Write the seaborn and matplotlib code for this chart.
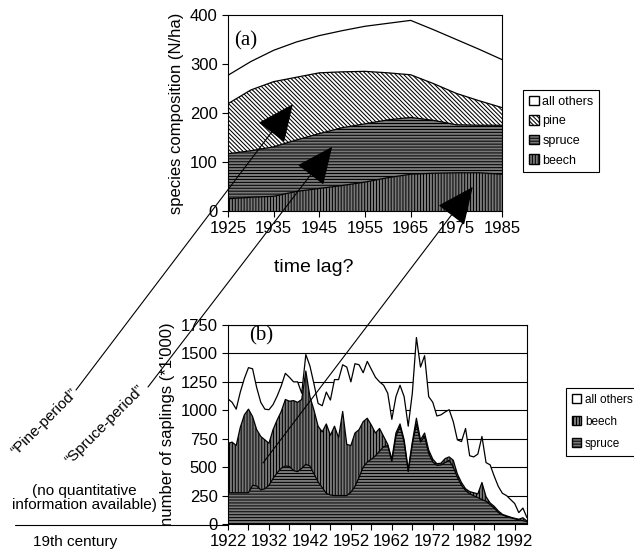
import matplotlib
matplotlib.use("Agg")
import matplotlib.pyplot as plt
import pandas as pd
import seaborn as sns
from matplotlib.lines import Line2D
from matplotlib.patches import ConnectionPatch, Patch

# (a) species composition (N/ha), upper boundary of each stacked layer
years_a = [1925, 1930, 1935, 1940, 1945, 1950, 1955, 1960, 1965, 1970, 1975, 1980, 1985]
beech_top_a = [25, 28, 30, 40, 46, 52, 59, 68, 75, 77, 78, 78, 75]
spruce_top_a = [117, 123, 131, 145, 158, 170, 178, 186, 191, 185, 176, 175, 175]
pine_top_a = [219, 247, 264, 273, 282, 284, 285, 282, 278, 260, 240, 225, 211]
total_a = [277, 305, 328, 345, 358, 368, 377, 383, 389, 370, 350, 330, 309]

# (b) number of saplings (*1000), upper boundary of each stacked layer
years_b = list(range(1922, 1996))
spruce_top_b = [275, 275, 275, 275, 275, 275, 340, 335, 300, 310,
                340, 400, 450, 490, 510, 505, 470, 460, 490, 525,
                510, 440, 370, 320, 270, 255, 250, 250, 250, 250,
                280, 330, 410, 500, 545, 570, 600, 640, 680, 690,
                550, 770, 860, 720, 460, 700, 880, 720, 770, 620,
                545, 515, 520, 540, 560, 500, 410, 340, 295, 265,
                248, 232, 215, 200, 170, 140, 100, 80, 66, 55,
                46, 36, 30, 20]
beech_top_b = [710, 720, 690, 850, 960, 1010, 945, 830, 770, 740,
               710, 830, 915, 990, 1095, 1080, 1085, 1070, 1095, 1345,
               1120, 1000, 860, 810, 880, 780, 860, 760, 990, 700,
               690, 800, 830, 900, 930, 870, 800, 840, 770, 700,
               570, 800, 880, 740, 480, 720, 930, 740, 800, 650,
               570, 530, 535, 575, 590, 560, 440, 365, 310, 285,
               275, 265, 365, 240, 185, 155, 115, 85, 72, 60,
               50, 42, 55, 25]
total_b = [1100, 1070, 1010, 1160, 1280, 1375, 1365, 1200, 1070, 1010,
           1005, 1050, 1125, 1215, 1325, 1290, 1250, 1250, 1150, 1490,
           1390, 1230, 1060, 1040, 1160, 1090, 1270, 1270, 1400, 1380,
           1250, 1410, 1400, 1330, 1430, 1360, 1290, 1250, 1220, 1150,
           920, 1120, 1220, 1120, 860, 1150, 1640, 1380, 1480, 1120,
           1070, 950, 960, 985, 1005, 900, 740, 725, 840, 600,
           590, 615, 770, 540, 520, 420, 330, 270, 250, 215,
           180, 100, 140, 55]

W, H = 634, 550


def px(x, y):
    return x / W, 1 - y / H


sns.set_style('ticks', {'axes.edgecolor': 'black', 'text.color': 'black',
                        'axes.labelcolor': 'black', 'xtick.color': 'black',
                        'ytick.color': 'black'})
plt.rcParams['font.family'] = ['Liberation Sans', 'DejaVu Sans']
plt.rcParams['hatch.linewidth'] = 0.75
plt.rcParams['axes.linewidth'] = 0.8

HATCH = {'beech': '|' * 11, 'spruce': '-' * 11, 'pine': '\\' * 8, 'all others': ''}

fig = plt.figure(figsize=(W / 100, H / 100), dpi=100)
ax_a = fig.add_axes([228 / W, 1 - 211 / H, 274 / W, 196 / H])
ax_b = fig.add_axes([228 / W, 1 - 524 / H, 299 / W, 199 / H])

# panel (a)
df_a = pd.DataFrame({'year': years_a, 'beech': beech_top_a, 'spruce': spruce_top_a,
                     'pine': pine_top_a, 'all others': total_a})
lower = [0] * len(years_a)
for col in ['beech', 'spruce', 'pine', 'all others']:
    ax_a.fill_between(df_a['year'], lower, df_a[col], facecolor='white',
                      edgecolor='black', hatch=HATCH[col], linewidth=0)
    sns.lineplot(data=df_a, x='year', y=col, ax=ax_a, color='black', lw=0.9, legend=False)
    lower = df_a[col]

ax_a.set_xlim(1925, 1985)
ax_a.set_ylim(0, 400)
ax_a.set_xticks(range(1925, 1986, 10))
ax_a.set_yticks(range(0, 401, 100))
ax_a.set_xlabel('')
ax_a.set_ylabel('species composition (N/ha)', fontsize=12)
ax_a.tick_params(labelsize=12, length=4, width=0.8)
ax_a.text(0.066, 0.87, '(a)', transform=ax_a.transAxes, ha='center', va='center',
          fontsize=15, family=['Liberation Serif', 'DejaVu Serif'])
for s in ax_a.spines.values():
    s.set_visible(True)

# panel (b)
df_b = pd.DataFrame({'year': years_b, 'spruce': spruce_top_b, 'beech': beech_top_b,
                     'all others': total_b})
ax_b.set_axisbelow(True)
ax_b.grid(axis='y', color='black', lw=0.8, zorder=0)
lower = [0] * len(years_b)
for col in ['spruce', 'beech', 'all others']:
    ax_b.fill_between(df_b['year'], lower, df_b[col], facecolor='white',
                      edgecolor='black', hatch=HATCH[col], linewidth=0, zorder=2)
    sns.lineplot(data=df_b, x='year', y=col, ax=ax_b, color='black', lw=0.9,
                 legend=False, zorder=3)
    lower = df_b[col]

ax_b.set_xlim(1922, 1995)
ax_b.set_ylim(0, 1750)
ax_b.set_xticks(range(1922, 1993, 10))
ax_b.set_xticks(range(1927, 1996, 10), minor=True)
ax_b.set_yticks(range(0, 1751, 250))
ax_b.set_xlabel('')
ax_b.set_ylabel("number of saplings (*1'000)", fontsize=12)
ax_b.tick_params(which='both', labelsize=12, length=4, width=0.8, direction='out')
ax_b.text(0.11, 0.945, '(b)', transform=ax_b.transAxes, ha='center', va='center',
          fontsize=15, family=['Liberation Serif', 'DejaVu Serif'])
for s in ax_b.spines.values():
    s.set_visible(True)

# legends
leg_a = fig.legend(
    handles=[Patch(facecolor='white', edgecolor='black', hatch=HATCH[k], label=k)
             for k in ['all others', 'pine', 'spruce', 'beech']],
    loc='upper left', bbox_to_anchor=px(523, 90), fontsize=9, frameon=True,
    fancybox=False, framealpha=1, edgecolor='black', handlelength=0.8,
    handleheight=0.8, handletextpad=0.3, borderpad=0.45, labelspacing=0.6,
    borderaxespad=0)
leg_a.get_frame().set_linewidth(0.8)
leg_b = fig.legend(
    handles=[Patch(facecolor='white', edgecolor='black', hatch=HATCH[k], label=k)
             for k in ['all others', 'beech', 'spruce']],
    loc='upper left', bbox_to_anchor=px(566, 388), fontsize=8.5, frameon=True,
    fancybox=False, framealpha=1, edgecolor='black', handlelength=0.8,
    handleheight=0.8, handletextpad=0.3, borderpad=0.5, labelspacing=0.85,
    borderaxespad=0)
leg_b.get_frame().set_linewidth(0.8)

# arrows from the periods to the composition chart
arrows = [((76, 390), (1939.2, 218)),
          ((148, 387), (1947.8, 131)),
          ((263, 463), (1978.6, 49))]
for start, tip in arrows:
    con = ConnectionPatch(xyA=px(*start), coordsA='figure fraction',
                          xyB=tip, coordsB=ax_a.transData,
                          arrowstyle='-|>,head_length=1.0,head_width=0.45',
                          mutation_scale=24, lw=0.8, color='black', zorder=5)
    fig.add_artist(con)

fig.add_artist(Line2D([15 / W, 228 / W], [1 - 525 / H] * 2, color='black', lw=0.8))

fig.text(*px(314, 268), 'time lag?', ha='center', va='center', fontsize=14)
fig.text(*px(75, 542), '19th century', ha='center', va='center', fontsize=11)
fig.text(*px(84, 498), '(no quantitative\ninformation available)', ha='center',
         va='center', fontsize=11, linespacing=1.05)
fig.text(*px(45, 422), '\u201cPine-period\u201d', ha='center', va='center',
         fontsize=11, rotation=45, rotation_mode='anchor')
fig.text(*px(105, 425), '\u201cSpruce-period\u201d', ha='center', va='center',
         fontsize=11, rotation=45, rotation_mode='anchor')

fig.savefig('out.png', dpi=100)
